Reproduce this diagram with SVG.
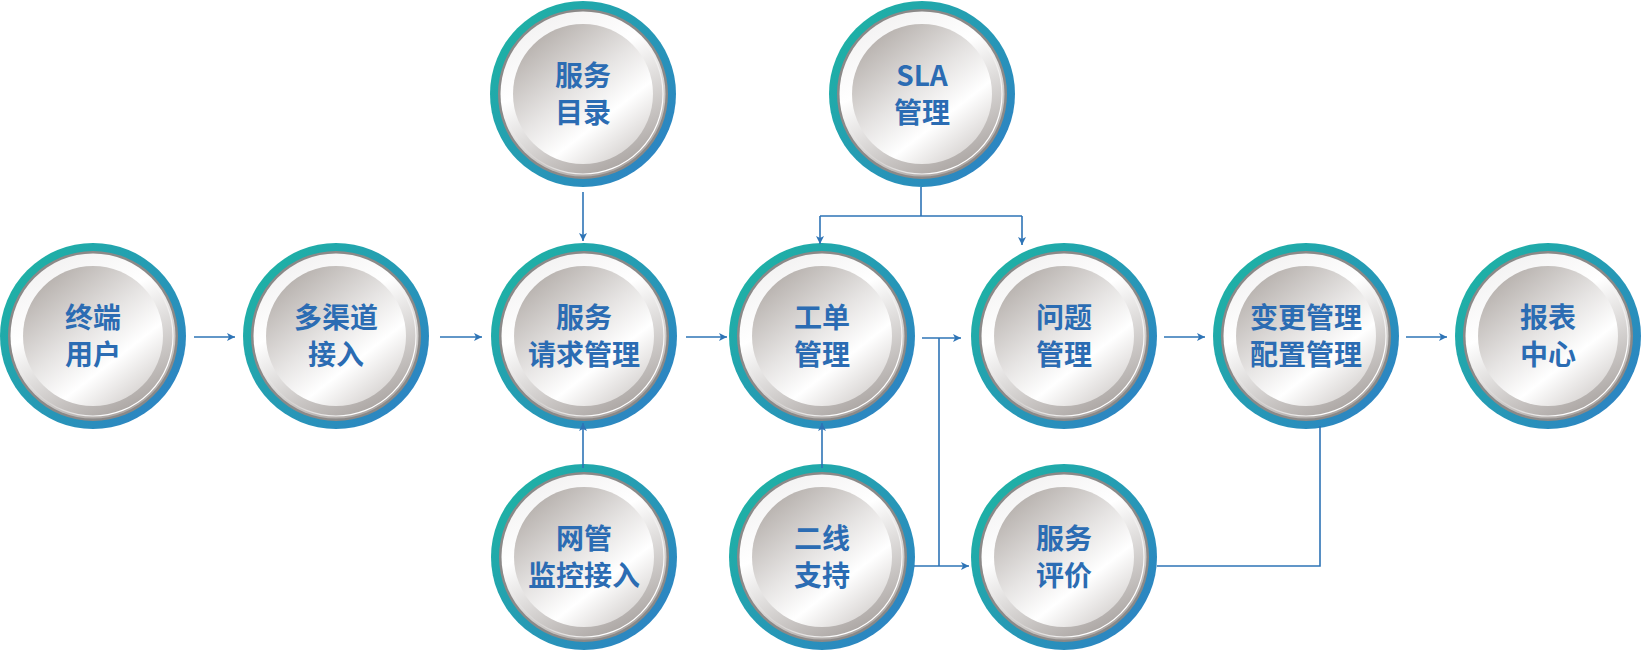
<svg xmlns="http://www.w3.org/2000/svg" xmlns:xlink="http://www.w3.org/1999/xlink" width="1642" height="650" viewBox="0 0 1642 650">
<style>
.lbl{font-family:"Noto Sans CJK SC","Noto Sans",sans-serif;font-weight:bold;font-size:28px;fill:#2b6cb3;text-anchor:middle}
.con{fill:none;stroke:#2e74b6;stroke-width:1.6}
.arr{marker-end:url(#ah)}
</style>
<defs>
<linearGradient id="ring" x1="0.1" y1="0.15" x2="0.9" y2="0.85">
<stop offset="0" stop-color="#1eb1a5"/>
<stop offset="1" stop-color="#2d84c3"/>
</linearGradient>
<linearGradient id="bevel" x1="0.25" y1="0" x2="0.75" y2="1">
<stop offset="0" stop-color="#f2f1f1"/>
<stop offset="0.35" stop-color="#ffffff"/>
<stop offset="1" stop-color="#a59f9c"/>
</linearGradient>
<linearGradient id="disc" x1="0.15" y1="0.05" x2="0.85" y2="0.95">
<stop offset="0" stop-color="#b3ada9"/>
<stop offset="0.45" stop-color="#e6e4e3"/>
<stop offset="0.7" stop-color="#ffffff"/>
<stop offset="1" stop-color="#d3cfcd"/>
</linearGradient>
<linearGradient id="hl" x1="0.2" y1="0.2" x2="0.8" y2="0.8">
<stop offset="0" stop-color="#ffffff" stop-opacity="0"/>
<stop offset="0.6" stop-color="#ffffff" stop-opacity="0.2"/>
<stop offset="1" stop-color="#ffffff" stop-opacity="1"/>
</linearGradient>
<marker id="ah" viewBox="0 0 10 10" refX="10" refY="5" markerWidth="9" markerHeight="8" markerUnits="userSpaceOnUse" orient="auto">
<path d="M0,0 L10,5 L0,10 L2.5,5 z" fill="#2e74b6"/>
</marker>
<g id="badge">
<circle r="93" fill="url(#ring)"/>
<circle r="85" fill="#8b8988"/>
<circle r="82.5" fill="url(#bevel)"/>
<circle r="80" fill="none" stroke="url(#hl)" stroke-width="1.2"/>
<circle r="70" fill="url(#disc)"/>
</g>
</defs>

<g id="nodes">
<g id="node-fuwumulu" transform="translate(583,94)"><use xlink:href="#badge"/><text class="lbl" y="-8">服务</text><text class="lbl" y="29">目录</text></g>
<g id="node-sla" transform="translate(922,94)"><use xlink:href="#badge"/><text class="lbl" y="-8">SLA</text><text class="lbl" y="29">管理</text></g>
<g id="node-zhongduan" transform="translate(93,336)"><use xlink:href="#badge"/><text class="lbl" y="-8">终端</text><text class="lbl" y="29">用户</text></g>
<g id="node-duoqudao" transform="translate(336,336)"><use xlink:href="#badge"/><text class="lbl" y="-8">多渠道</text><text class="lbl" y="29">接入</text></g>
<g id="node-qingqiu" transform="translate(584,336)"><use xlink:href="#badge"/><text class="lbl" y="-8">服务</text><text class="lbl" y="29">请求管理</text></g>
<g id="node-gongdan" transform="translate(822,336)"><use xlink:href="#badge"/><text class="lbl" y="-8">工单</text><text class="lbl" y="29">管理</text></g>
<g id="node-wenti" transform="translate(1064,336)"><use xlink:href="#badge"/><text class="lbl" y="-8">问题</text><text class="lbl" y="29">管理</text></g>
<g id="node-biangeng" transform="translate(1306,336)"><use xlink:href="#badge"/><text class="lbl" y="-8">变更管理</text><text class="lbl" y="29">配置管理</text></g>
<g id="node-baobiao" transform="translate(1548,336)"><use xlink:href="#badge"/><text class="lbl" y="-8">报表</text><text class="lbl" y="29">中心</text></g>
<g id="node-wangguan" transform="translate(584,557)"><use xlink:href="#badge"/><text class="lbl" y="-8">网管</text><text class="lbl" y="29">监控接入</text></g>
<g id="node-erxian" transform="translate(822,557)"><use xlink:href="#badge"/><text class="lbl" y="-8">二线</text><text class="lbl" y="29">支持</text></g>
<g id="node-pingjia" transform="translate(1064,557)"><use xlink:href="#badge"/><text class="lbl" y="-8">服务</text><text class="lbl" y="29">评价</text></g>
</g>

<g id="connectors">
<path class="con arr" d="M194,337 H235"/>
<path class="con arr" d="M440,337 H482"/>
<path class="con arr" d="M686,337 H727"/>
<path class="con arr" d="M922,338 H961"/>
<path class="con arr" d="M1164,337 H1205"/>
<path class="con arr" d="M1406,337 H1447"/>
<path class="con arr" d="M583,192 V241"/>
<path class="con" d="M921,187 V216 M820,216 H1022"/>
<path class="con arr" d="M820,216 V244"/>
<path class="con arr" d="M1022,216 V245"/>
<path class="con arr" d="M583,468 V423"/>
<path class="con arr" d="M822,468 V423"/>
<path class="con" d="M939,338 V566"/>
<path class="con arr" d="M914,566 H969"/>
<path class="con" d="M1157,566 H1320 V426"/>
</g>
</svg>
